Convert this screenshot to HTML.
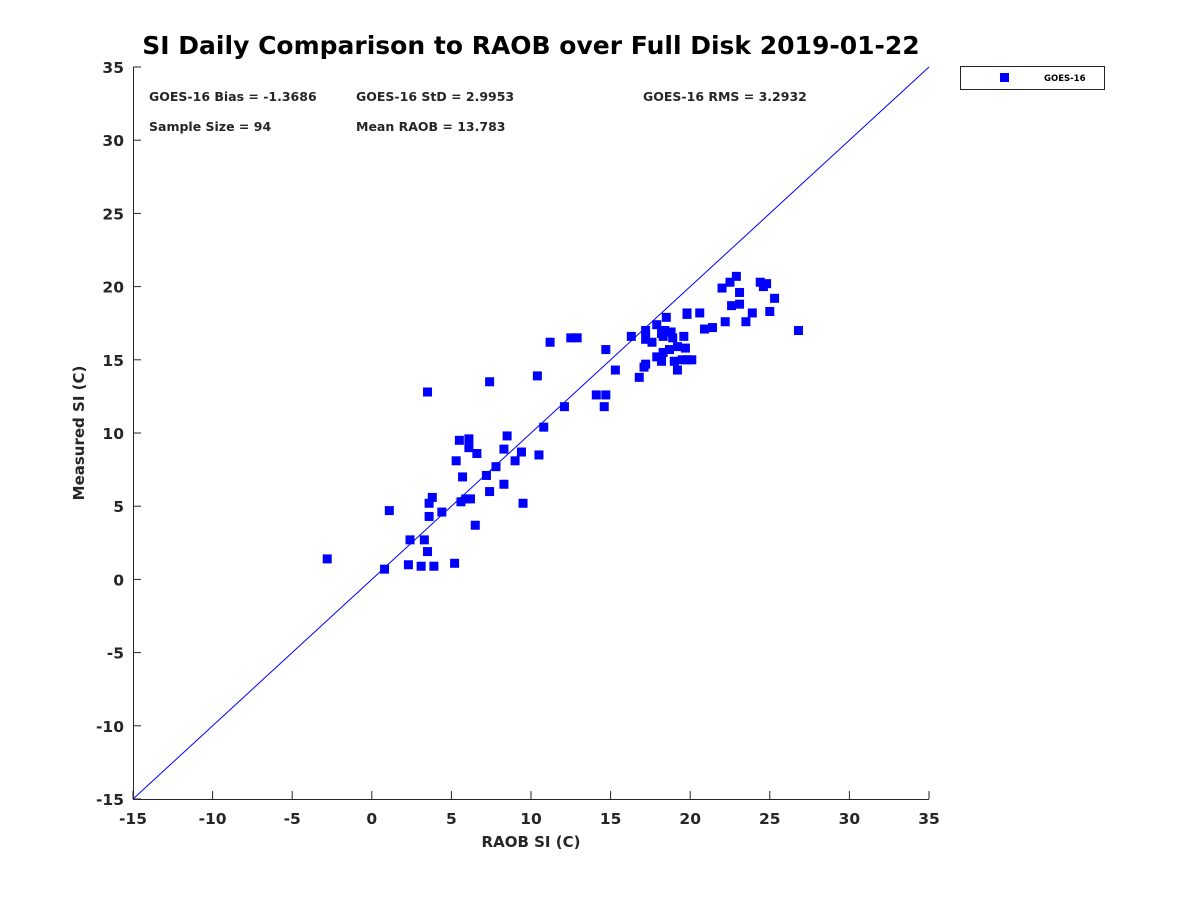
<!DOCTYPE html>
<html><head><meta charset="utf-8"><style>
body{margin:0;background:#fff;width:1200px;height:900px;overflow:hidden}
svg text{font-family:"DejaVu Sans","Liberation Sans",sans-serif;font-weight:bold;fill:#262626}
</style></head><body>
<svg id="chart" width="1200" height="900">
<text x="531" y="54" text-anchor="middle" font-size="25" style="fill:#000">SI Daily Comparison to RAOB over Full Disk 2019-01-22</text>
<g id="axes"></g>
<g id="pts"></g>
<text x="531" y="847" text-anchor="middle" font-size="15">RAOB SI (C)</text>
<text transform="translate(84,433) rotate(-90)" text-anchor="middle" font-size="15">Measured SI (C)</text>
<g font-size="12.5" style="fill:#000">
<text x="149" y="101">GOES-16 Bias = -1.3686</text>
<text x="356" y="101">GOES-16 StD = 2.9953</text>
<text x="643" y="101">GOES-16 RMS = 3.2932</text>
<text x="149" y="131">Sample Size = 94</text>
<text x="356" y="131">Mean RAOB = 13.783</text>
</g>
<g>
<rect x="960.5" y="66.5" width="144" height="23" fill="#fff" stroke="#262626" stroke-width="1"/>
<rect x="1000" y="73" width="9" height="9" fill="#0000ff"/>
<text x="1044" y="81" font-size="8.5" style="fill:#000">GOES-16</text>
</g>
</svg>
<script>
const xs=[-2.8,0.8,1.1,2.3,2.4,3.1,3.3,3.5,3.5,3.6,3.6,3.8,3.9,4.4,5.2,5.3,5.5,5.6,5.7,5.9,6.1,6.1,6.2,6.5,6.6,7.2,7.4,7.4,7.8,8.3,8.3,8.5,9.0,9.4,9.5,10.4,10.5,10.8,11.2,12.1,12.5,12.9,14.1,14.6,14.7,14.7,15.3,16.3,16.8,17.1,17.2,17.2,17.2,17.6,17.9,17.9,18.2,18.2,18.3,18.3,18.4,18.5,18.7,18.8,18.9,19.0,19.2,19.2,19.5,19.6,19.7,19.8,19.8,19.8,20.1,20.6,20.9,21.4,22.0,22.2,22.5,22.6,22.9,23.1,23.1,23.5,23.9,24.4,24.6,24.8,25.0,25.3,26.8];
const ys=[1.4,0.7,4.7,1.0,2.7,0.9,2.7,1.9,12.8,5.2,4.3,5.6,0.9,4.6,1.1,8.1,9.5,5.3,7.0,5.5,9.0,9.6,5.5,3.7,8.6,7.1,6.0,13.5,7.7,6.5,8.9,9.8,8.1,8.7,5.2,13.9,8.5,10.4,16.2,11.8,16.5,16.5,12.6,11.8,12.6,15.7,14.3,16.6,13.8,14.5,14.7,17.0,16.4,16.2,15.2,17.4,14.9,16.8,15.5,16.6,17.0,17.9,15.7,16.9,16.5,14.9,15.9,14.3,15.0,16.6,15.8,18.1,18.2,15.0,15.0,18.2,17.1,17.2,19.9,17.6,20.3,18.7,20.7,19.6,18.8,17.6,18.2,20.3,20.0,20.2,18.3,19.2,17.0];
const ticks=[-15,-10,-5,0,5,10,15,20,25,30,35];
const X=v=>133+(v+15)*796/50, Y=v=>799-(v+15)*732/50;
const NS="http://www.w3.org/2000/svg";
function mk(t,a,p){const e=document.createElementNS(NS,t);for(const k in a)e.setAttribute(k,a[k]);p.appendChild(e);return e;}
const ax=document.getElementById('axes');
const xl=mk('line',{x1:133,y1:799.5,x2:929,y2:799.5,stroke:'#262626'},ax);


const yl=mk('line',{x1:133.5,y1:67,x2:133.5,y2:799,stroke:'#262626'},ax);


const dl=mk('line',{x1:X(-15),y1:Y(-15),x2:X(35),y2:Y(35),stroke:'#0000ff','stroke-width':1},ax);


ticks.forEach(t=>{
 mk('line',{x1:X(t),y1:799,x2:X(t),y2:791,stroke:'#262626'},ax);
 mk('line',{x1:133,y1:Y(t),x2:141,y2:Y(t),stroke:'#262626'},ax);
 const tx=mk('text',{x:X(t),y:824,'text-anchor':'middle','font-size':15.5},ax);tx.textContent=t;
 
 
 const ty=mk('text',{x:124,y:Y(t)+6,'text-anchor':'end','font-size':15.5},ax);ty.textContent=t;
 
 
});
const pg=document.getElementById('pts');
xs.forEach((v,i)=>{
 const r=mk('rect',{x:X(v)-4.5,y:Y(ys[i])-4.5,width:9,height:9,fill:'#0000ff'},pg);
 
 
});
</script>
</body></html>
